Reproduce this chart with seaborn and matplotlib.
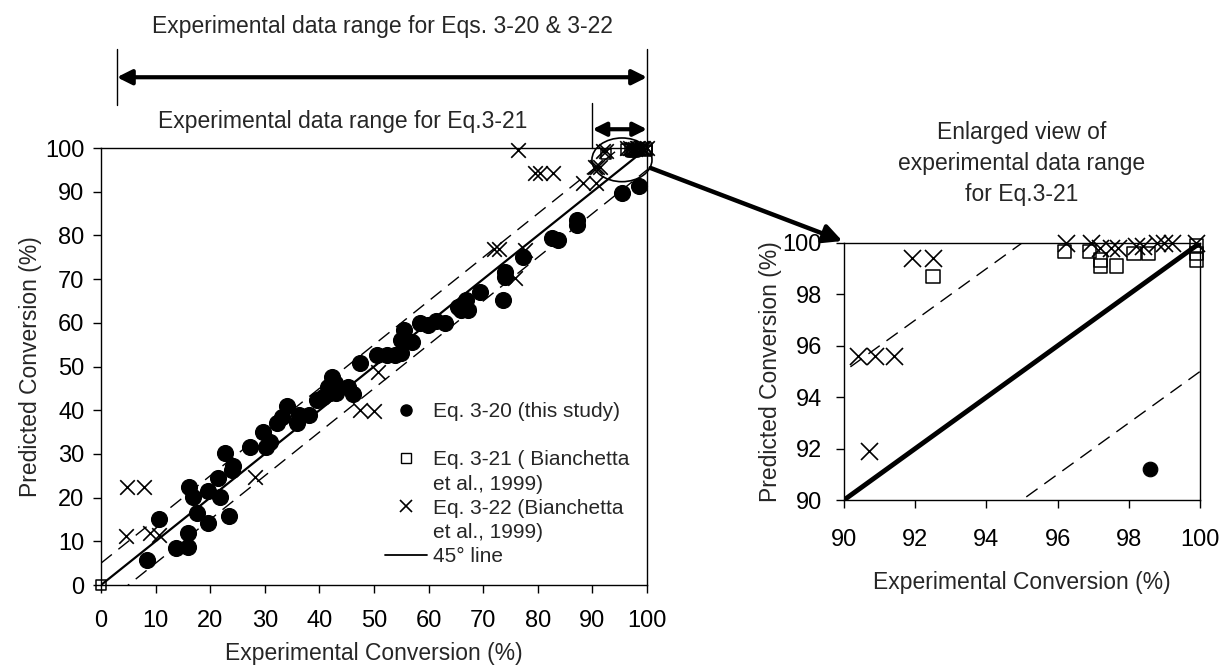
import matplotlib
matplotlib.use('Agg')
import matplotlib.pyplot as plt
from matplotlib.patches import Ellipse, FancyArrowPatch
from matplotlib.lines import Line2D
import seaborn as sns
import numpy as np

# Eq. 3-20 (this study) - filled circles
EQ20_X = [8.5, 10.6, 13.7, 16.0, 16.0, 16.1, 16.8, 17.5, 19.5, 19.5, 21.4, 21.8, 22.7, 23.5, 24.0,
          24.1, 27.3, 29.6, 30.3, 30.9, 32.2, 33.1, 34.0, 35.8, 36.3, 38.0, 39.5, 40.7, 41.6, 41.9,
          42.3, 42.9, 43.1, 45.3, 46.2, 47.4, 50.5, 52.3, 53.8, 55.0, 55.4, 55.0, 56.9, 58.4, 59.9,
          61.4, 63.0, 65.4, 66.0, 66.9, 67.2, 69.4, 73.7, 74.0, 74.0, 77.3, 82.5, 83.7, 87.1, 87.2,
          95.4, 98.6]
EQ20_Y = [5.7, 15.0, 8.4, 8.8, 12.0, 22.5, 20.2, 16.4, 21.4, 14.3, 24.6, 20.2, 30.3, 15.8, 26.3,
          27.2, 31.6, 35.1, 31.6, 32.8, 37.0, 38.5, 41.0, 37.0, 38.9, 38.8, 42.3, 43.1, 45.4, 43.9,
          47.7, 46.2, 43.9, 45.4, 43.6, 50.7, 52.6, 52.6, 52.6, 53.0, 58.4, 56.1, 55.7, 59.9, 59.6,
          60.4, 59.9, 63.7, 63.0, 65.2, 63.0, 67.1, 65.2, 71.7, 70.5, 75.1, 79.3, 78.9, 83.5, 82.4,
          89.8, 91.2]

# Eq. 3-21 (Bianchetta et al., 1999) - open squares
EQ21_X = [0.0, 92.5, 96.2, 96.9, 97.2, 97.2, 97.65, 98.15, 98.55, 99.9, 99.9, 99.9]
EQ21_Y = [0.0, 98.7, 99.66, 99.66, 99.34, 99.1, 99.1, 99.6, 99.6, 99.9, 99.34, 99.6]

# Eq. 3-22 (Bianchetta et al., 1999) - crosses
EQ22_X = [4.7, 7.8, 4.5, 8.9, 10.6, 28.2, 47.4, 49.9, 50.8, 71.9, 72.8, 77.7, 75.8, 76.4, 79.5,
          80.4, 82.8, 88.3, 90.4, 90.87, 91.4, 90.7, 91.9, 92.5, 96.25, 96.95, 97.2, 97.5, 97.7,
          98.2, 98.4, 98.8, 99.0, 99.2, 99.9]
EQ22_Y = [22.5, 22.5, 11.2, 11.8, 11.5, 24.8, 40.0, 39.8, 48.8, 77.0, 77.0, 76.6, 70.2, 99.5, 94.2,
          94.2, 94.2, 91.9, 95.6, 95.6, 95.6, 91.9, 99.4, 99.4, 100.0, 100.0, 99.8, 99.8, 99.8,
          99.9, 99.9, 100.0, 100.0, 100.0, 100.0]

LINE_X = [0, 100]
BAND = 5

MAIN_TICKS = list(range(0, 101, 10))
ZOOM_TICKS = list(range(90, 101, 2))
ZOOM_MIN = 90

sns.set_style("ticks")
plt.rcParams['font.family'] = ['Liberation Sans', 'DejaVu Sans']
plt.rcParams['xtick.direction'] = 'out'
plt.rcParams['ytick.direction'] = 'out'

fig = plt.figure(figsize=(12.26, 6.65), dpi=100)
ax1 = fig.add_axes([0.0824, 0.1203, 0.4454, 0.6571])
ax2 = fig.add_axes([0.6884, 0.2481, 0.2904, 0.3865])

lx = np.array(LINE_X)


def keep(xs, ys, lo):
    xs, ys = np.array(xs), np.array(ys)
    m = (xs >= lo) & (ys >= lo)
    return xs[m], ys[m]


def draw(ax, lo, line_w, circ_s, sq_s, x_s, xpad, ypad):
    sns.lineplot(x=lx, y=lx, ax=ax, color='black', linewidth=line_w)
    sns.lineplot(x=lx, y=lx + BAND, ax=ax, color='black', linewidth=1.0)
    sns.lineplot(x=lx, y=lx - BAND, ax=ax, color='black', linewidth=1.0)
    for ln in ax.lines[-2:]:
        ln.set_dashes((10, 6))
    cx, cy = keep(EQ20_X, EQ20_Y, lo)
    sx, sy = keep(EQ21_X, EQ21_Y, lo)
    xx, xy = keep(EQ22_X, EQ22_Y, lo)
    sns.scatterplot(x=cx, y=cy, ax=ax, color='black', marker='o', s=circ_s,
                    edgecolor='black', clip_on=False, zorder=5)
    sns.scatterplot(x=sx, y=sy, ax=ax, marker='s', s=sq_s, facecolor='none',
                    edgecolor='black', linewidth=1.1, clip_on=False, zorder=5)
    sns.scatterplot(x=xx, y=xy, ax=ax, color='black', marker='x', s=x_s,
                    linewidth=1.2, clip_on=False, zorder=5)
    for sp in ax.spines.values():
        sp.set_visible(True)
        sp.set_color('black')
        sp.set_linewidth(1.0)
    ax.tick_params(length=6, width=1, labelsize=17, colors='black')
    ax.tick_params(axis='x', pad=xpad)
    ax.tick_params(axis='y', pad=ypad)


draw(ax1, 0, 1.6, 130, 55, 110, 12, 6)
ax1.set_xlim(0, 100)
ax1.set_ylim(0, 100)
ax1.set_xticks(MAIN_TICKS)
ax1.set_yticks(MAIN_TICKS)
ax1.set_xlabel('Experimental Conversion (%)', fontsize=16.5, labelpad=7)
ax1.set_ylabel('Predicted Conversion (%)', fontsize=16.5, labelpad=2)

draw(ax2, ZOOM_MIN, 3.5, 110, 95, 150, 15, 10)
ax2.set_xlim(90, 100)
ax2.set_ylim(90, 100)
ax2.set_xticks(ZOOM_TICKS)
ax2.set_yticks(ZOOM_TICKS)
ax2.set_xlabel('Experimental Conversion (%)', fontsize=16.5, labelpad=14)
ax2.set_ylabel('Predicted Conversion (%)', fontsize=16.5, labelpad=0)
ax2.set_title('Enlarged view of\nexperimental data range\nfor Eq.3-21', fontsize=16.5,
              pad=30, linespacing=1.45)

# legend rows; continuation lines get blank handles so the symbols sit on the first line
blank = Line2D([], [], linestyle='none')
handles = [
    Line2D([], [], marker='o', color='black', linestyle='none', markersize=8),
    blank,
    Line2D([], [], marker='s', markerfacecolor='none', markeredgecolor='black',
           linestyle='none', markersize=7),
    blank,
    Line2D([], [], marker='x', color='black', linestyle='none', markersize=9, markeredgewidth=1.2),
    blank,
    Line2D([], [], color='black', linewidth=1.3),
]
labels = ['Eq. 3-20 (this study)', ' ', 'Eq. 3-21 ( Bianchetta', 'et al., 1999)',
          'Eq. 3-22 (Bianchetta', 'et al., 1999)', '45\u00b0 line']
ax1.legend(handles, labels, loc='upper left', bbox_to_anchor=(0.52, 0.419), frameon=False,
           fontsize=15, handlelength=2.0, handletextpad=0.3, labelspacing=0.25,
           borderaxespad=0, borderpad=0)

# range annotations above the main plot
tx = ax1.get_xaxis_transform()
ax1.annotate('', xy=(2.9, 1.162), xytext=(100, 1.162), xycoords=tx, textcoords=tx,
             arrowprops=dict(arrowstyle='<|-|>', color='black', lw=3, mutation_scale=22,
                             shrinkA=0, shrinkB=0), annotation_clip=False)
ax1.plot([2.9, 2.9], [1.098, 1.227], transform=tx, color='black', lw=1, clip_on=False)
ax1.plot([100, 100], [1.0, 1.227], transform=tx, color='black', lw=1, clip_on=False)
ax1.text(51.6, 1.279, 'Experimental data range for Eqs. 3-20 & 3-22', transform=tx,
         ha='center', va='center', fontsize=16.5)

ax1.annotate('', xy=(90, 1.043), xytext=(100, 1.043), xycoords=tx, textcoords=tx,
             arrowprops=dict(arrowstyle='<|-|>', color='black', lw=3, mutation_scale=20,
                             shrinkA=0, shrinkB=0), annotation_clip=False)
ax1.plot([90, 90], [1.0, 1.103], transform=tx, color='black', lw=1, clip_on=False)
ax1.text(44.3, 1.06, 'Experimental data range for Eq.3-21', transform=tx,
         ha='center', va='center', fontsize=16.5)

ax1.add_patch(Ellipse((95.4, 97.3), 11, 10, fill=False, edgecolor='black', lw=1.2,
                      clip_on=False, zorder=6))

fig.add_artist(FancyArrowPatch((648 / 1226, 1 - 167 / 665), (845 / 1226, 1 - 242 / 665),
                               transform=fig.transFigure, arrowstyle='-|>',
                               mutation_scale=28, lw=3.2, color='black'))

fig.savefig('out.png', dpi=100)
